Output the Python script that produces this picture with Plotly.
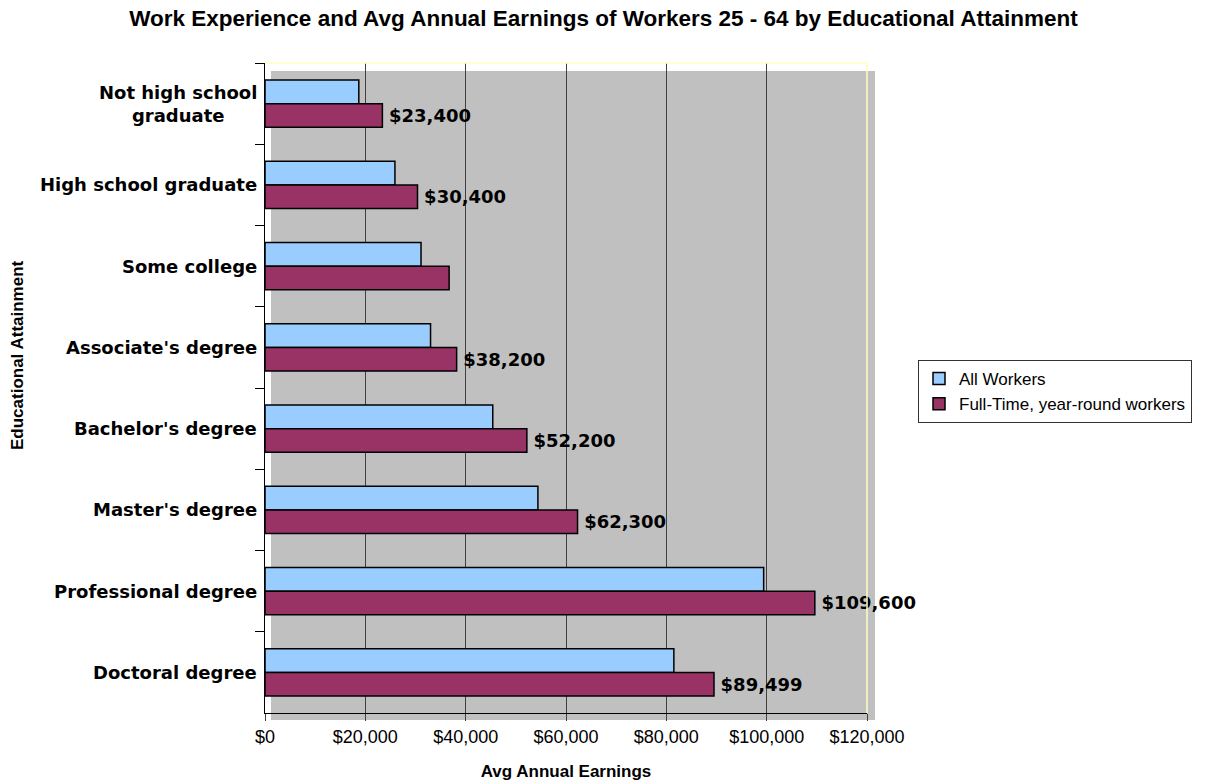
import plotly.graph_objects as go

# Education levels, top to bottom
categories = [
    "Not high school graduate",
    "High school graduate",
    "Some college",
    "Associate's degree",
    "Bachelor's degree",
    "Master's degree",
    "Professional degree",
    "Doctoral degree",
]
category_labels = [
    "Not high school<br>graduate",
    "High school graduate",
    "Some college",
    "Associate's degree",
    "Bachelor's degree",
    "Master's degree",
    "Professional degree",
    "Doctoral degree",
]

# Average annual earnings (USD)
all_workers = [18700, 25900, 31100, 33000, 45400, 54400, 99400, 81500]
full_time = [23400, 30400, 36700, 38200, 52200, 62300, 109600, 89499]
# Which full-time bars carry a value label
full_time_labeled = [True, True, False, True, True, True, True, True]

x_ticks = [0, 20000, 40000, 60000, 80000, 100000, 120000]
x_tick_labels = ["$0", "$20,000", "$40,000", "$60,000", "$80,000", "$100,000", "$120,000"]

W, H = 1207, 784
ML, MR, MT, MB = 265, 340, 63, 71
PW, PH = W - ML - MR, H - MT - MB

ARIAL = "Liberation Sans, Arial, sans-serif"
bold_label = dict(family="DejaVu Sans, Verdana, sans-serif", size=18, color="black", weight=700)

ft_text = [f"\u2009${v:,}" if show else "" for v, show in zip(full_time, full_time_labeled)]

fig = go.Figure()
fig.add_trace(go.Bar(
    y=categories, x=all_workers, orientation="h", name="All Workers",
    marker=dict(color="#99CCFF", line=dict(color="black", width=1.5)),
))
fig.add_trace(go.Bar(
    y=categories, x=full_time, orientation="h", name="Full-Time, year-round workers",
    marker=dict(color="#993366", line=dict(color="black", width=1.5)),
    text=ft_text, textposition="outside", cliponaxis=False,
    textfont=bold_label,
))

# Category labels, centred line by line
annotations = []
for cat, lab in zip(categories, category_labels):
    annotations.append(dict(
        xref="paper", yref="y", x=-6 / PW, y=cat, text=lab, showarrow=False,
        xanchor="right", yanchor="middle", align="center", font=bold_label,
    ))

# Vertical axis title
annotations.append(dict(
    xref="paper", yref="paper", x=-(ML - 17) / PW, y=(PH - (355 - MT)) / PH,
    text="Educational Attainment", textangle=-90, showarrow=False,
    xanchor="center", yanchor="middle",
    font=dict(size=17, family=ARIAL, color="black", weight=700),
))

# Offset grey back wall plus the pale frame edges
shapes = [
    dict(type="rect", xref="paper", yref="paper", layer="below",
         x0=6 / PW, x1=(PW + 8) / PW, y0=-7 / PH, y1=(PH - 8) / PH,
         fillcolor="#C0C0C0", line=dict(width=0)),
    dict(type="line", xref="paper", yref="paper", x0=0, x1=1, y0=1, y1=1,
         line=dict(color="#FFFFC0", width=1.5)),
    dict(type="line", xref="paper", yref="paper", x0=1, x1=1, y0=0, y1=1,
         line=dict(color="#FFFFC0", width=1.5)),
]

fig.update_layout(
    width=W, height=H,
    margin=dict(l=ML, r=MR, t=MT, b=MB, autoexpand=False),
    paper_bgcolor="white", plot_bgcolor="rgba(0,0,0,0)",
    barmode="group", bargap=0.42, bargroupgap=0,
    title=dict(
        text="Work Experience and Avg Annual Earnings of Workers 25 - 64 by Educational Attainment",
        x=0.5, xref="container", xanchor="center",
        y=1 - 18 / H, yref="container", yanchor="middle",
        font=dict(family=ARIAL, size=22.5, color="black", weight=700),
    ),
    font=dict(family=ARIAL, color="black"),
    xaxis=dict(
        range=[0, 120000], tickvals=x_ticks, ticktext=x_tick_labels,
        showgrid=True, gridcolor="#404040", gridwidth=1, zeroline=False,
        showline=True, linecolor="black", linewidth=1,
        ticks="outside", ticklen=7, tickcolor="#404040",
        tickfont=dict(size=18, family=ARIAL),
        title=dict(text="Avg Annual Earnings", standoff=19,
                   font=dict(size=17, family=ARIAL, weight=700)),
    ),
    yaxis=dict(
        type="category", categoryorder="array", categoryarray=categories,
        range=[7.5, -0.5], showticklabels=False, showgrid=False, zeroline=False,
        showline=True, linecolor="black", linewidth=1,
        ticks="outside", tickson="boundaries", ticklen=9, tickcolor="black",
    ),
    legend=dict(
        x=(918 - ML) / PW, y=(PH - (360 - MT)) / PH, xanchor="left", yanchor="top",
        bordercolor="#333333", borderwidth=1, bgcolor="white",
        font=dict(size=17, family=ARIAL),
        traceorder="normal", tracegroupgap=0,
    ),
    annotations=annotations,
    shapes=shapes,
)

fig.write_html("out.html")
